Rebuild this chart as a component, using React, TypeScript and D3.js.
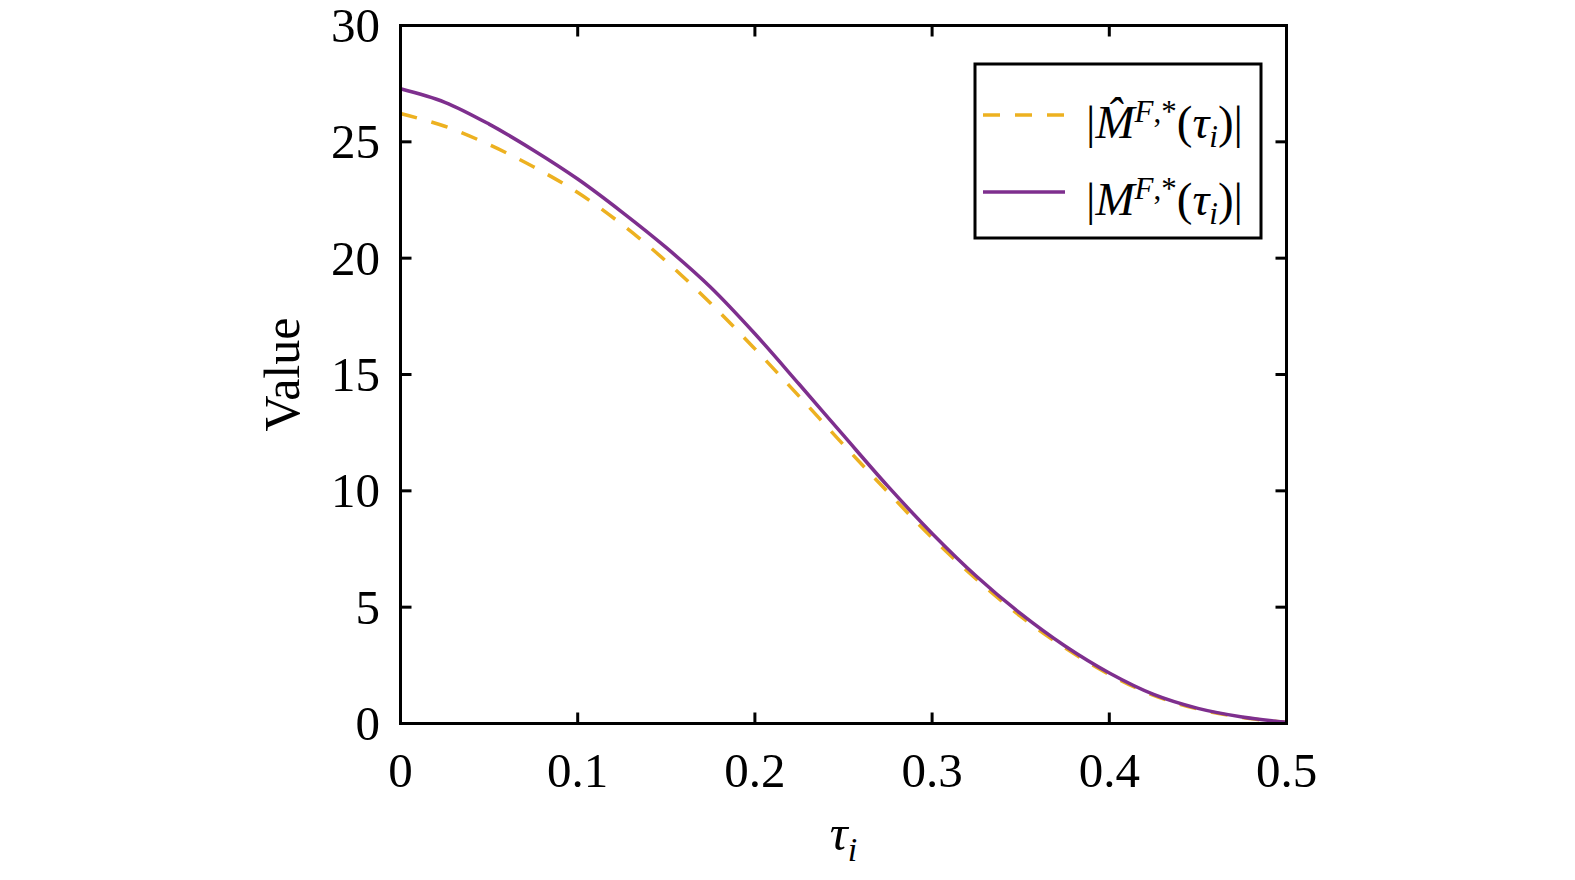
import React from 'react';
import * as d3 from 'd3';

// tau grid and the two series
const tau = [0, 0.025, 0.05, 0.075, 0.1, 0.125, 0.15, 0.175, 0.2, 0.225, 0.25, 0.275, 0.3, 0.325, 0.35, 0.375, 0.4, 0.425, 0.45, 0.475, 0.5];
const mHat = [26.22, 25.67, 24.88, 23.93, 22.82, 21.45, 19.86, 18.06, 16.1, 14.06, 11.98, 9.95, 7.98, 6.2, 4.6, 3.25, 2.11, 1.21, 0.62, 0.26, 0.04];
const mTrue = [27.28, 26.7, 25.76, 24.64, 23.4, 21.98, 20.45, 18.75, 16.75, 14.58, 12.38, 10.2, 8.17, 6.33, 4.72, 3.33, 2.17, 1.25, 0.65, 0.28, 0.05];

const xTicks = [0, 0.1, 0.2, 0.3, 0.4, 0.5];
const yTicks = [0, 5, 10, 15, 20, 25, 30];

const GOLD = '#EDB120';
const PURPLE = '#7E2F8E';
const FONT = '"Liberation Serif", "Times New Roman", serif';

export default function App() {
  const left = 400.5, right = 1286.5, top = 25.5, bottom = 723.5;
  const x = d3.scaleLinear().domain([0, 0.5]).range([left, right]);
  const y = d3.scaleLinear().domain([0, 30]).range([bottom, top]);

  const line = d3.line<number>()
    .x((_, i) => x(tau[i]))
    .y(d => y(d))
    .curve(d3.curveCatmullRom.alpha(0.5));

  const tickLen = 11;

  // legend geometry
  const lg = { x: 975, y: 64, w: 286, h: 174 };
  const rows = [
    { y: 115, color: GOLD, dash: '17,15', hat: true },
    { y: 192, color: PURPLE, dash: null, hat: false },
  ];

  return (
    <svg width={1575} height={880} style={{ position: 'absolute', left: 0, top: 0, background: '#fff' }}
      fontFamily={FONT}>
      <rect width={1575} height={880} fill="#fff" />

      {/* curves */}
      <path d={line(mHat) || ''} fill="none" stroke={GOLD} strokeWidth={3.5} strokeDasharray="17,15" />
      <path d={line(mTrue) || ''} fill="none" stroke={PURPLE} strokeWidth={3.5} />

      {/* box */}
      <rect x={left} y={top} width={right - left} height={bottom - top} fill="none" stroke="#000" strokeWidth={3} />

      {/* ticks on all sides */}
      {xTicks.map(t => (
        <g key={'x' + t}>
          <line x1={x(t)} x2={x(t)} y1={bottom} y2={bottom - tickLen} stroke="#000" strokeWidth={3} />
          <line x1={x(t)} x2={x(t)} y1={top} y2={top + tickLen} stroke="#000" strokeWidth={3} />
          <text x={x(t)} y={787} textAnchor="middle" fontSize={49}>{t === 0 ? '0' : t.toFixed(1)}</text>
        </g>
      ))}
      {yTicks.map(t => (
        <g key={'y' + t}>
          <line x1={left} x2={left + tickLen} y1={y(t)} y2={y(t)} stroke="#000" strokeWidth={3} />
          <line x1={right} x2={right - tickLen} y1={y(t)} y2={y(t)} stroke="#000" strokeWidth={3} />
          <text x={380} y={y(t)} dy="0.34em" textAnchor="end" fontSize={49}>{t}</text>
        </g>
      ))}

      {/* axis titles */}
      <text transform={`translate(299,${(top + bottom) / 2}) rotate(-90)`} textAnchor="middle" fontSize={50}>Value</text>
      <text x={(left + right) / 2} y={850} textAnchor="middle" fontSize={50}>
        <tspan fontStyle="italic">τ</tspan>
        <tspan fontStyle="italic" fontSize={34} dy={11}>i</tspan>
      </text>

      {/* legend */}
      <rect x={lg.x} y={lg.y} width={lg.w} height={lg.h} fill="#fff" stroke="#000" strokeWidth={3} />
      {rows.map((r, i) => (
        <g key={i}>
          <line x1={983} x2={1065} y1={r.y} y2={r.y} stroke={r.color} strokeWidth={3.5}
            strokeDasharray={r.dash || undefined} />
          <text x={1086} y={r.y + 23} fontSize={47}>
            <tspan>|</tspan>
            <tspan fontStyle="italic">{r.hat ? 'M\u0302' : 'M'}</tspan>
            <tspan fontSize={31} dy={-16} fontStyle="italic">F</tspan>
            <tspan fontSize={31}>,*</tspan>
            <tspan dy={16}>(</tspan>
            <tspan fontStyle="italic">τ</tspan>
            <tspan fontStyle="italic" fontSize={31} dy={9}>i</tspan>
            <tspan dy={-9}>)|</tspan>
          </text>
        </g>
      ))}
    </svg>
  );
}
